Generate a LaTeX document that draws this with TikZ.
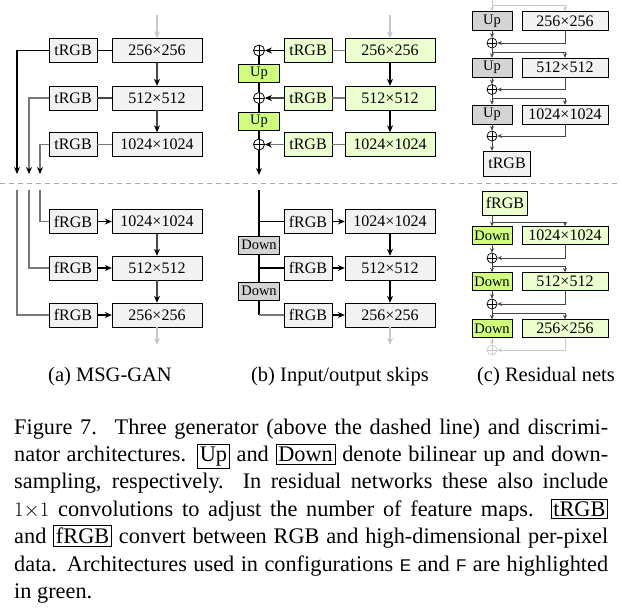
\documentclass[tikz,border=0pt]{standalone}
\usepackage{fontspec}
\setmainfont{Liberation Serif}
\setsansfont{Liberation Sans}
\usetikzlibrary{arrows.meta}
\definecolor{boxgray}{RGB}{242,242,242}
\definecolor{dkgray}{RGB}{212,212,212}
\definecolor{ltgreen}{RGB}{236,255,206}
\definecolor{brgreen}{RGB}{208,255,124}
\definecolor{midline}{RGB}{70,70,70}
\definecolor{softline}{RGB}{120,120,120}
\definecolor{fadeline}{RGB}{200,200,200}
\tikzset{
  blk/.style={draw,fill=boxgray,minimum height=24pt,font=\fontsize{16}{16}\selectfont},
  res/.style={blk,minimum width=90pt},
  rgbbox/.style={blk,minimum width=48pt},
  updn/.style={blk,fill=dkgray,minimum width=41pt,minimum height=18pt,font=\fontsize{14.5}{14.5}\selectfont},
  cres/.style={res,minimum width=86pt,minimum height=19pt},
  cupdn/.style={updn,minimum width=40pt,minimum height=19pt},
  gfill/.style={fill=ltgreen},
  bgfill/.style={fill=brgreen},
  sum/.style={draw,circle,minimum size=11pt,
    path picture={\draw (path picture bounding box.north) -- (path picture bounding box.south)
      (path picture bounding box.west) -- (path picture bounding box.east);}},
  csum/.style={sum,minimum size=10pt,line width=0.7pt},
  arr/.style={line width=1.1pt,-{Stealth[length=7pt,width=6pt,color=black]}},
  farr/.style={fadeline,line width=1.2pt,-{Stealth[length=7pt,width=6pt]}},
  sarr/.style={midline,line width=0.8pt,-{Stealth[length=4.5pt,width=4pt]}},
  fsarr/.style={fadeline,line width=0.8pt,-{Stealth[length=4.5pt,width=4pt]}},
  subcap/.style={font=\fontsize{20.5}{24}\selectfont}
}
\begin{document}
\begin{tikzpicture}[x=1pt,y=1pt]
\tikzstyle{every node}+=[inner sep=0pt]
\useasboundingbox (0,0) rectangle (620,-614);
% (a) MSG-GAN
\node [rgbbox] (at1) at (73,-50.5) {tRGB};
\node [rgbbox] (at2) at (73,-98) {tRGB};
\node [rgbbox] (at3) at (73,-144.5) {tRGB};
\node [res] (ag1) at (157,-50.5) {256×256};
\node [res] (ag2) at (157,-98) {512×512};
\node [res] (ag3) at (157,-144.5) {1024×1024};
\coordinate (ain) at (157,-15);
\coordinate (ao1) at (17,-174);
\coordinate (ao2) at (29,-174);
\coordinate (ao3) at (40,-174);
\draw [farr] (ain) -- (ag1);
\draw [arr,midline] (ag1) -- (ag2);
\draw [arr,midline] (ag2) -- (ag3);
\draw [line width=1.1pt] (at1) -- (ag1);
\draw [line width=1.1pt,midline] (at2) -- (ag2);
\draw [line width=1.3pt,softline] (at3) -- (ag3);
\draw [arr] (at1.west) -| (ao1);
\draw [arr,softline,line width=1.3pt] (at2.west) -| (ao2);
\draw [arr,softline,line width=1.3pt] (at3.west) -| (ao3);
\node [rgbbox] (af1) at (73,-221.5) {fRGB};
\node [rgbbox] (af2) at (73,-268) {fRGB};
\node [rgbbox] (af3) at (73,-315) {fRGB};
\node [res] (ad1) at (157,-221.5) {1024×1024};
\node [res] (ad2) at (157,-268) {512×512};
\node [res] (ad3) at (157,-315) {256×256};
\coordinate (ai1) at (40,-190);
\coordinate (ai2) at (29,-190);
\coordinate (ai3) at (17,-190);
\coordinate (aout) at (157,-345);
\draw [softline,line width=1.3pt] (ai1) |- (af1.west);
\draw [softline,line width=1.3pt] (ai2) |- (af2.west);
\draw [softline,line width=1.3pt] (ai3) |- (af3.west);
\draw [arr] (af1) -- (ad1);
\draw [arr] (af2) -- (ad2);
\draw [arr] (af3) -- (ad3);
\draw [arr,midline] (ad1) -- (ad2);
\draw [arr,midline] (ad2) -- (ad3);
\draw [farr] (ad3) -- (aout);
\node [subcap] (capa) at (110,-377) {(a) MSG-GAN};
% dashed separator
\coordinate (dl) at (0,-183);
\coordinate (dr) at (620,-183);
\draw [color={rgb,255:red,170;green,170;blue,170},line width=0.8pt,dash pattern=on 5pt off 4pt] (dl) -- (dr);
% (b) input/output skips
\node [sum,line width=0.8pt] (bp1) at (259,-50.5) {};
\node [sum,line width=0.8pt] (bp2) at (259,-98) {};
\node [sum,line width=0.8pt] (bp3) at (259,-144.5) {};
\node [updn,bgfill] (bu1) at (259,-73.5) {Up};
\node [updn,bgfill] (bu2) at (259,-121) {Up};
\node [rgbbox,gfill] (bt1) at (308,-50.5) {tRGB};
\node [rgbbox,gfill] (bt2) at (308,-98) {tRGB};
\node [rgbbox,gfill] (bt3) at (308,-144.5) {tRGB};
\node [res,gfill] (bg1) at (390,-50.5) {256×256};
\node [res,gfill] (bg2) at (390,-98) {512×512};
\node [res,gfill] (bg3) at (390,-144.5) {1024×1024};
\coordinate (bin) at (390,-15);
\coordinate (bout) at (259,-175);
\draw [farr] (bin) -- (bg1);
\draw [arr] (bg1) -- (bg2);
\draw [arr] (bg2) -- (bg3);
\draw [softline,line width=1.3pt] (bg1) -- (bt1);
\draw [softline,line width=1.3pt] (bg2) -- (bt2);
\draw [softline,line width=1.8pt] (bg3) -- (bt3);
\draw [arr] (bt1) -- (bp1);
\draw [arr,midline] (bt2) -- (bp2);
\draw [arr,softline,line width=1.6pt] (bt3) -- (bp3);
\draw [line width=1.1pt] (bp1) -- (bu1);
\draw [line width=1.1pt] (bu1) -- (bp2);
\draw [line width=1.1pt] (bp2) -- (bu2);
\draw [line width=1.1pt] (bu2) -- (bp3);
\draw [arr] (bp3) -- (bout);
\node [rgbbox] (bf1) at (308,-221.5) {fRGB};
\node [rgbbox] (bf2) at (308,-268) {fRGB};
\node [rgbbox] (bf3) at (308,-315) {fRGB};
\node [res] (bd1) at (390,-221.5) {1024×1024};
\node [res] (bd2) at (390,-268) {512×512};
\node [res] (bd3) at (390,-315) {256×256};
\node [updn] (bdn1) at (259,-245) {Down};
\node [updn] (bdn2) at (259,-291) {Down};
\coordinate (bj) at (259,-190);
\coordinate (bout2) at (390,-345);
\draw [line width=1.1pt] (bj) -- (bdn1);
\draw [line width=1.1pt] (bj |- bf1) -- (bf1.west);
\draw [line width=1.1pt] (bdn1) -- (bdn2);
\draw [line width=1.1pt] (bdn1 |- bf2) -- (bf2.west);
\draw [line width=1.1pt] (bdn2.south) -- (bdn2 |- bf3);
\draw [softline,line width=1.5pt] (bdn2 |- bf3) -- (bf3.west);
\draw [arr] (bf1) -- (bd1);
\draw [arr] (bf2) -- (bd2);
\draw [arr] (bf3) -- (bd3);
\draw [arr] (bd1) -- (bd2);
\draw [arr] (bd2) -- (bd3);
\draw [farr] (bd3) -- (bout2);
\node [subcap] (capb) at (340,-377) {(b) Input/output skips};
% (c) residual nets
\node [cupdn] (cu1) at (492,-21) {Up};
\node [cupdn] (cu2) at (492,-67.5) {Up};
\node [cupdn] (cu3) at (492,-114.5) {Up};
\node [cres] (cg1) at (565,-21) {256×256};
\node [cres] (cg2) at (565,-67.5) {512×512};
\node [cres] (cg3) at (565,-114.5) {1024×1024};
\node [csum] (cp1) at (492,-43) {};
\node [csum] (cp2) at (492,-89.5) {};
\node [csum] (cp3) at (492,-136) {};
\node [rgbbox,minimum width=47pt,minimum height=25pt] (ct) at (507,-163.5) {tRGB};
\coordinate (cin) at (492,0);
\coordinate (cj0) at (492,-5);
\coordinate (cj1) at (492,-52);
\coordinate (cj2) at (492,-98.5);
\draw [fsarr] (cin) -- (cu1);
\draw [fsarr] (cj0) -| (cg1);
\draw [sarr] (cu1) -- (cp1);
\draw [sarr] (cg1.south) |- (cp1.east);
\draw [sarr] (cp1) -- (cu2);
\draw [sarr] (cj1) -| (cg2);
\draw [sarr] (cu2) -- (cp2);
\draw [sarr] (cg2.south) |- (cp2.east);
\draw [sarr] (cp2) -- (cu3);
\draw [sarr] (cj2) -| (cg3);
\draw [sarr] (cu3) -- (cp3);
\draw [sarr] (cg3.south) |- (cp3.east);
\draw [sarr] (cp3) -- (cp3 |- ct.north);
\node [rgbbox,gfill,minimum width=45pt,minimum height=24pt] (cf) at (505,-203) {fRGB};
\node [cupdn,bgfill,minimum height=18pt] (cdn1) at (492,-235.5) {Down};
\node [cupdn,bgfill,minimum height=18pt] (cdn2) at (492,-281.5) {Down};
\node [cupdn,bgfill,minimum height=18pt] (cdn3) at (492,-328.5) {Down};
\node [cres,gfill,minimum height=18pt] (cd1) at (565,-235.5) {1024×1024};
\node [cres,gfill,minimum height=18pt] (cd2) at (565,-281.5) {512×512};
\node [cres,gfill,minimum height=18pt] (cd3) at (565,-328.5) {256×256};
\node [csum] (cq1) at (492,-258) {};
\node [csum] (cq2) at (492,-304) {};
\node [csum,color=fadeline] (cq3) at (492,-350) {};
\coordinate (ck0) at (492,-222);
\coordinate (ck1) at (492,-266);
\coordinate (ck2) at (492,-313);
\draw [sarr] (cf.south -| ck0) -- (cdn1);
\draw [sarr] (ck0) -| (cd1);
\draw [sarr] (cdn1) -- (cq1);
\draw [sarr] (cd1.south) |- (cq1.east);
\draw [sarr] (cq1) -- (cdn2);
\draw [sarr] (ck1) -| (cd2);
\draw [sarr] (cdn2) -- (cq2);
\draw [sarr] (cd2.south) |- (cq2.east);
\draw [sarr] (cq2) -- (cdn3);
\draw [sarr] (ck2) -| (cd3);
\draw [fsarr] (cdn3) -- (cq3);
\draw [fsarr] (cd3.south) |- (cq3.east);
\node [subcap] (capc) at (546,-377) {(c) Residual nets};
% caption
\node [anchor=base west] (cap) at (14,-434) {\parbox[t]{594pt}{\fontsize{22.3}{27.4}\selectfont
\hyphenpenalty=10000 \tolerance=10000 \fboxsep=2pt \fboxrule=0.8pt
Figure 7.\hspace{0.8em}Three generator (above the dashed line) and discrimi-\linebreak
nator architectures. \fbox{Up} and \fbox{Down} denote bilinear up and down-\linebreak
sampling, respectively. In residual networks these also include\linebreak
$1{\times}1$ convolutions to adjust the number of feature maps. \fbox{tRGB}\linebreak
and \fbox{fRGB} convert between RGB and high-dimensional per-pixel\linebreak
data. Architectures used in configurations {\sffamily\fontsize{17}{17}\selectfont E} and {\sffamily\fontsize{17}{17}\selectfont F} are highlighted\linebreak
in green.}};
\end{tikzpicture}
\end{document}
